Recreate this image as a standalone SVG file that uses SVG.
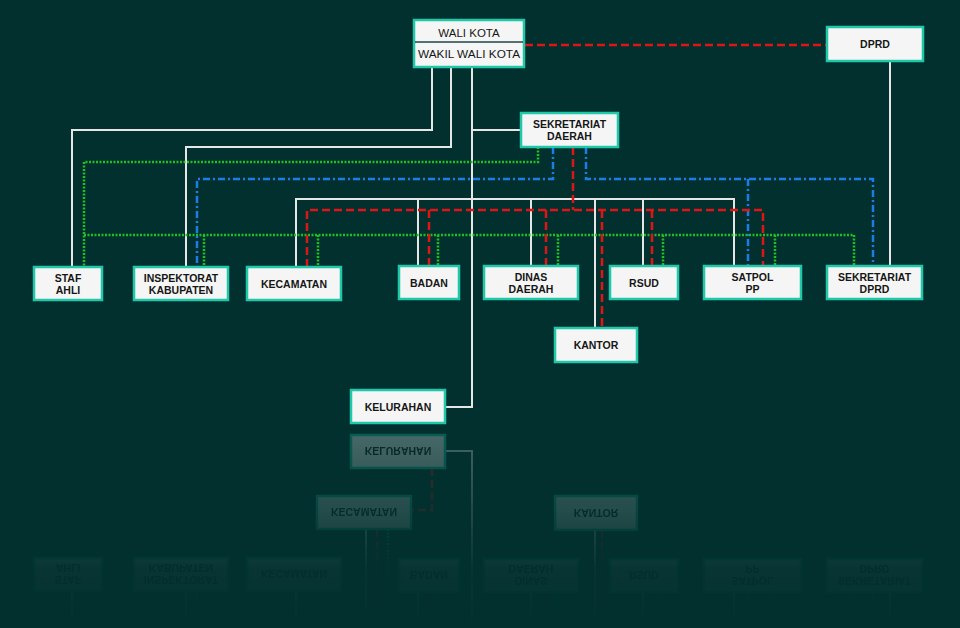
<svg xmlns="http://www.w3.org/2000/svg" xmlns:xlink="http://www.w3.org/1999/xlink" width="960" height="628" viewBox="0 0 960 628">
<style>
.box{fill:#f5f5f5;stroke:#1ec8a8;stroke-width:2.5}
.t{font-family:"Liberation Sans",Arial,sans-serif;font-size:10.5px;font-weight:bold;fill:#161616;text-anchor:middle}
.tw{font-family:"Liberation Sans",Arial,sans-serif;font-size:11.5px;fill:#161616;text-anchor:middle}
.w{fill:none;stroke:#e6e6e6;stroke-width:2}
.g{fill:none;stroke:#22bf22;stroke-width:2.5;stroke-dasharray:2 1.5}
.r{fill:none;stroke:#e01414;stroke-width:2.5;stroke-dasharray:8 4}
.b{fill:none;stroke:#1a7ee6;stroke-width:2.5;stroke-dasharray:7 3 2 3}
</style>
<defs>
<linearGradient id="fadeGrad" gradientUnits="userSpaceOnUse" x1="0" y1="428" x2="0" y2="628">
<stop offset="0" stop-color="#fff" stop-opacity="0.3"/>
<stop offset="0.42" stop-color="#fff" stop-opacity="0.14"/>
<stop offset="0.7" stop-color="#fff" stop-opacity="0.03"/>
<stop offset="1" stop-color="#fff" stop-opacity="0.005"/>
</linearGradient>
<mask id="fade" maskUnits="userSpaceOnUse" x="0" y="426" width="960" height="202">
<rect x="0" y="426" width="960" height="202" fill="url(#fadeGrad)"/>
</mask>
</defs>
<rect x="0" y="0" width="960" height="628" fill="#02302f"/>

<g id="connectors">
<path class="w" d="M472,67V407H445M472,130H521M432,67V130H72V267M451,67V147H186V267M296,267V199H734V266M418,199V266M531,199V266M595,199V328M643,199V266M890,61V266"/>
<path class="g" d="M538,147V162H84V267M84,235H854V266M204,235V267M318,235V267M438,235V266M558,235V266M663,235V266M775,235V266"/>
<path class="b" d="M553,147V179H197V267M586,147V179H873V266M748,179V266"/>
<path class="r" d="M525,45H827M573,147V210M307,267V210H763V266M429,210V266M546,210V266M602,210V328M652,210V266"/>
</g>

<g id="wali-kota">
<rect class="box" x="414" y="20" width="110" height="47"/>
<line x1="415" y1="42" x2="523" y2="42" stroke="#1d4543" stroke-width="1.5"/>
<text class="tw" x="469" y="37">WALI KOTA</text>
<text class="tw" x="469" y="58" textLength="102" lengthAdjust="spacingAndGlyphs">WAKIL WALI KOTA</text>
</g>
<g id="dprd"><rect class="box" x="827" y="27" width="96" height="34"/><text class="t" x="875" y="48">DPRD</text></g>
<g id="sekretariat-daerah"><rect class="box" x="521" y="113" width="97" height="34"/><text class="t" x="569.5" y="128">SEKRETARIAT</text><text class="t" x="569.5" y="140">DAERAH</text></g>
<g id="staf-ahli"><rect class="box" x="34" y="267" width="68" height="33"/><text class="t" x="68" y="282">STAF</text><text class="t" x="68" y="294">AHLI</text></g>
<g id="inspektorat"><rect class="box" x="134" y="267" width="94" height="33"/><text class="t" x="181" y="282">INSPEKTORAT</text><text class="t" x="181" y="294">KABUPATEN</text></g>
<g id="kecamatan"><rect class="box" x="247" y="267" width="94" height="33"/><text class="t" x="294" y="288">KECAMATAN</text></g>
<g id="badan"><rect class="box" x="399" y="266" width="60" height="33"/><text class="t" x="429" y="287">BADAN</text></g>
<g id="dinas-daerah"><rect class="box" x="484" y="266" width="94" height="33"/><text class="t" x="531" y="281">DINAS</text><text class="t" x="531" y="293">DAERAH</text></g>
<g id="rsud"><rect class="box" x="610" y="266" width="68" height="33"/><text class="t" x="644" y="287">RSUD</text></g>
<g id="satpol-pp"><rect class="box" x="704" y="266" width="97" height="33"/><text class="t" x="752.5" y="281">SATPOL</text><text class="t" x="752.5" y="293">PP</text></g>
<g id="sekretariat-dprd"><rect class="box" x="827" y="266" width="95" height="33"/><text class="t" x="874.5" y="281">SEKRETARIAT</text><text class="t" x="874.5" y="293">DPRD</text></g>
<g id="kantor"><rect class="box" x="555" y="328" width="82" height="34"/><text class="t" x="596" y="349">KANTOR</text></g>
<g id="kelurahan"><rect class="box" x="351" y="390" width="94" height="33"/><text class="t" x="398" y="411">KELURAHAN</text></g>

<g id="reflection" mask="url(#fade)">
<g transform="matrix(1 0 0 -1 0 858)">
<path class="w" d="M445,407H472V220M366,329V250M595,328V240M72,267V240M186,267V240M296,267V240M418,266V240M531,266V240M643,266V240M734,266V240M890,266V240"/>
<path class="r" d="M432,390V348H411M377,329V250M602,328V240M307,267V240M429,266V240M546,266V240M652,266V240M763,266V240"/>
<path class="g" d="M388,329V250M84,267V240M204,267V240M318,267V240M438,266V240M558,266V240M663,266V240M775,266V240M854,266V240"/>
<path class="b" d="M197,267V240M748,266V240M873,266V240"/>
<use xlink:href="#kelurahan"/>
<use xlink:href="#kantor"/>
<use xlink:href="#kecamatan" transform="translate(70,62)"/>
<use xlink:href="#staf-ahli"/>
<use xlink:href="#inspektorat"/>
<use xlink:href="#kecamatan"/>
<use xlink:href="#badan"/>
<use xlink:href="#dinas-daerah"/>
<use xlink:href="#rsud"/>
<use xlink:href="#satpol-pp"/>
<use xlink:href="#sekretariat-dprd"/>
</g>
</g>
</svg>
